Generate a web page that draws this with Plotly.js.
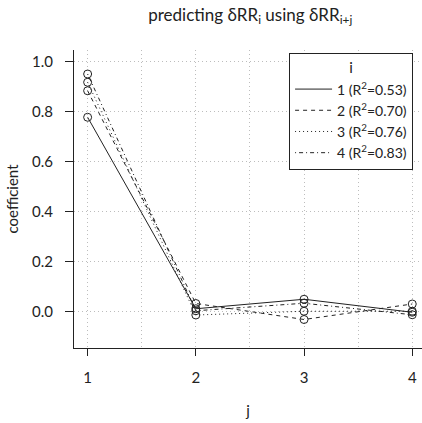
<!DOCTYPE html>
<html>
<head>
<meta charset="utf-8">
<script src="https://cdn.plot.ly/plotly-3.0.1.min.js"></script>
<style>html,body{margin:0;padding:0;background:#fff;}#chart{width:422px;height:423px;}</style>
</head>
<body>
<div id="chart"></div>
<script>
// data
const lags = [1, 2, 3, 4];
const coefI1 = [0.778, 0.012, 0.050, -0.002];
const coefI2 = [0.884, 0.033, -0.031, 0.031];
const coefI3 = [0.918, -0.013, 0.002, 0.002];
const coefI4 = [0.951, 0.004, 0.034, -0.012];
const seriesNames = ['1', '2', '3', '4'];
const rSquared = ['0.53', '0.70', '0.76', '0.83'];
const yTicks = [0, 0.2, 0.4, 0.6, 0.8, 1.0];
const yTickText = ['0.0', '0.2', '0.4', '0.6', '0.8', '1.0'];
const xTicks = [1, 2, 3, 4];

const allCoef = [coefI1, coefI2, coefI3, coefI4];
const dashes = ['solid', '4px,4px', '1px,3px', '1px,3px,4px,3px'];
const ink = '#222';

const traces = [];
allCoef.forEach((c, k) => {
  traces.push({
    x: lags, y: c, mode: 'lines', type: 'scatter',
    name: seriesNames[k] + ' (R<sup>2</sup>=' + rSquared[k] + ')',
    line: {color: ink, width: 1, dash: dashes[k]},
    hoverinfo: 'skip'
  });
});
allCoef.forEach((c, k) => {
  traces.push({
    x: lags, y: c, mode: 'markers', type: 'scatter', showlegend: false,
    marker: {symbol: 'circle-open', size: 8, color: ink, line: {width: 1, color: ink}},
    hoverinfo: 'skip'
  });
});

const font = {family: 'Lato, "Open Sans", sans-serif', size: 15, color: ink};
const gridCol = '#bdbdbd';
const gridDash = '1px,3px';

const layout = {
  width: 422, height: 423,
  margin: {l: 74, r: 0, t: 50, b: 75, pad: 0},
  paper_bgcolor: '#fff', plot_bgcolor: '#fff',
  font: font,
  showlegend: true,
  title: {
    text: 'predicting δRR<sub>i</sub> using δRR<sub>i+j</sub>',
    font: {family: font.family, size: 17, color: ink},
    x: 0.593, xanchor: 'center', y: 0.965, yanchor: 'middle'
  },
  xaxis: {
    range: [0.874, 4.09],
    tickvals: xTicks,
    ticks: 'outside', ticklen: 7, tickwidth: 1, tickcolor: ink,
    ticklabelstandoff: 9,
    showline: true, linecolor: ink, linewidth: 1,
    showgrid: true, gridcolor: gridCol, griddash: gridDash, gridwidth: 1,
    minor: {dtick: 0.5, tick0: 1, showgrid: true, gridcolor: gridCol, griddash: gridDash, gridwidth: 1},
    zeroline: false,
    tickfont: {family: font.family, size: 15, color: ink},
    title: {text: 'j', standoff: 20, font: {family: font.family, size: 15, color: ink}}
  },
  yaxis: {
    range: [-0.145, 1.047],
    tickvals: yTicks, ticktext: yTickText,
    ticks: 'outside', ticklen: 8, tickwidth: 1, tickcolor: ink,
    ticklabelstandoff: 9,
    showline: true, linecolor: ink, linewidth: 1,
    showgrid: true, gridcolor: gridCol, griddash: gridDash, gridwidth: 1,
    zeroline: false,
    tickfont: {family: font.family, size: 15, color: ink},
    title: {text: 'coefficient', standoff: 9, font: {family: font.family, size: 15, color: ink}}
  },
  legend: {
    x: 0.618, xanchor: 'left', y: 0.99, yanchor: 'top',
    bgcolor: '#fff', bordercolor: ink, borderwidth: 1,
    font: {family: font.family, size: 14, color: ink},
    title: {text: 'i', side: 'top center', font: {family: font.family, size: 15, color: ink}},
    tracegroupgap: 0, itemwidth: 37
  }
};

Plotly.newPlot('chart', traces, layout, {staticPlot: true, displayModeBar: false});
</script>
</body>
</html>
